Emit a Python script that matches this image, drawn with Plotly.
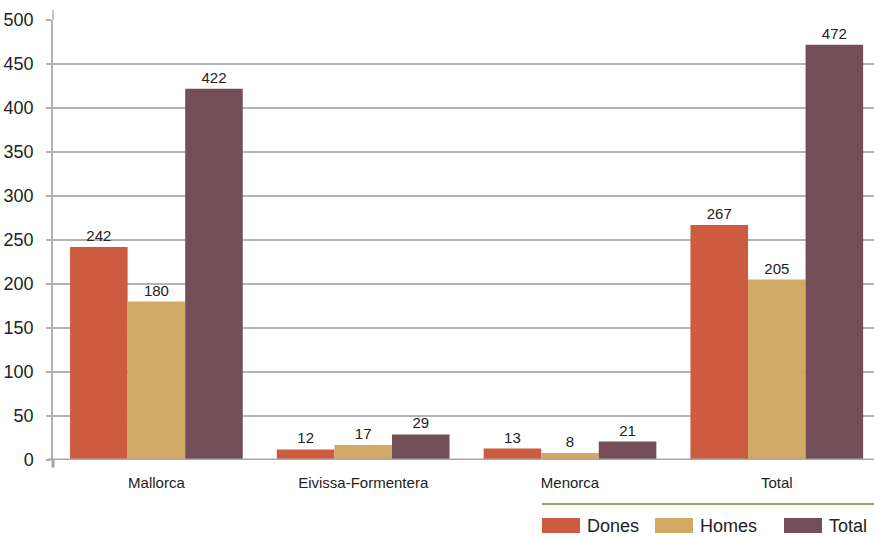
import plotly.graph_objects as go

categories = ["Mallorca", "Eivissa-Formentera", "Menorca", "Total"]
dones = [242, 12, 13, 267]
homes = [180, 17, 8, 205]
total = [422, 29, 21, 472]
series_names = ["Dones", "Homes", "Total"]
colors = ["#CD5B40", "#D0A964", "#734E58"]

FONT = "Liberation Sans, Arial, sans-serif"

fig = go.Figure()
for name, vals, col in zip(series_names, [dones, homes, total], colors):
    fig.add_trace(go.Bar(
        x=categories, y=vals, name=name, marker_color=col,
        marker_line_width=0,
        text=[str(v) for v in vals], textposition="outside",
        textfont=dict(family=FONT, size=15, color="#222"),
        cliponaxis=False, showlegend=False,
    ))

fig.update_layout(
    width=874, height=538,
    margin=dict(l=53, r=0, t=20, b=78),
    paper_bgcolor="white", plot_bgcolor="white",
    barmode="group", bargap=0.165, bargroupgap=0,
    font=dict(family=FONT, color="#222"),
    xaxis=dict(range=[-0.5, 3.47], showgrid=False,
               tickfont=dict(family=FONT, size=15, color="#222"),
               ticks="", showline=False, zeroline=False, ticklabelstandoff=12),
    yaxis=dict(range=[0, 500], dtick=50, showgrid=True, gridcolor="#b3b3b3",
               gridwidth=1.5, zeroline=False, showline=True, linecolor="#b3b3b3",
               linewidth=1.5, ticks="outside", ticklen=5, tickcolor="#b3b3b3",
               tickwidth=1.5, tickfont=dict(family=FONT, size=18, color="#222"),
               ticklabelstandoff=9),
)

# axis line extends a little above the top gridline
fig.add_shape(type="line", xref="paper", yref="paper", x0=0, x1=0, y0=1, y1=1 + 10 / 440,
              line=dict(color="#b3b3b3", width=1.5))
# zero baseline (thicker)
fig.add_shape(type="line", xref="paper", yref="y", x0=-0.006, x1=1, y0=0, y1=0,
              line=dict(color="#a8a8a8", width=3))
fig.add_shape(type="line", xref="paper", yref="paper", x0=0, x1=0, y0=0, y1=-0.017,
              line=dict(color="#a8a8a8", width=3))

# legend: green rule + swatches
fig.add_shape(type="line", xref="paper", yref="paper", x0=(542 - 53) / 821, x1=1,
              y0=(460 - 504) / 440, y1=(460 - 504) / 440,
              line=dict(color="#6E8B2E", width=1.5))
sw_x = [542, 655, 784]
for name, col, sx in zip(series_names, colors, sw_x):
    x0 = (sx - 53) / 821
    x1 = (sx + 38 - 53) / 821
    fig.add_shape(type="rect", xref="paper", yref="paper", x0=x0, x1=x1,
                  y0=(460 - 533) / 440, y1=(460 - 518) / 440,
                  fillcolor=col, line_width=0)
    fig.add_annotation(xref="paper", yref="paper", x=(sx + 43 - 53) / 821,
                       y=(460 - 526) / 440, text=name, showarrow=False,
                       xanchor="left", yanchor="middle",
                       font=dict(family=FONT, size=18, color="#222"))

fig.write_html("out.html", config={"displayModeBar": False})
with open("out.html", "r", encoding="utf-8") as f:
    html = f.read()
html = html.replace("<body>", '<body style="margin:0;padding:0;overflow:hidden">', 1)
with open("out.html", "w", encoding="utf-8") as f:
    f.write(html)
